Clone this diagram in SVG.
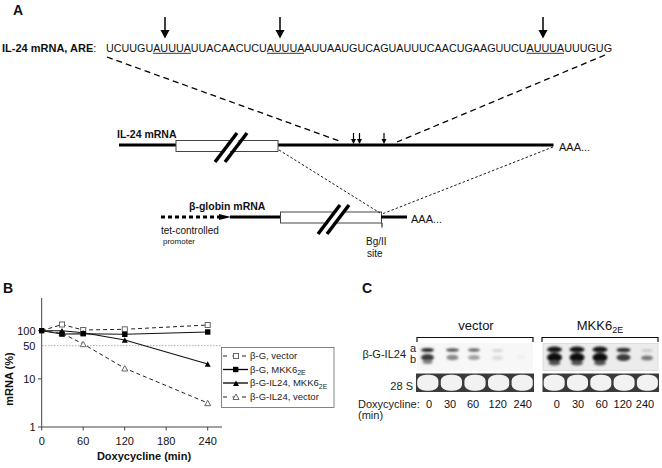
<svg xmlns="http://www.w3.org/2000/svg" width="662" height="468" viewBox="0 0 662 468">
<style>
text{font-family:"Liberation Sans",Arial,sans-serif;fill:#111}
.b{font-weight:bold}
.thick{stroke:#000;stroke-width:3;fill:none}
.dashA{stroke:#000;stroke-width:1.3;stroke-dasharray:6,4;fill:none}
.dot{stroke:#000;stroke-width:0.9;stroke-dasharray:2.5,2;fill:none}
.slash{stroke:#000;stroke-width:3.5;stroke-linecap:butt}
.box{fill:#fff;stroke:#444;stroke-width:1}
.ax{stroke:#444;stroke-width:1;fill:none}
.ser{fill:none;stroke:#111;stroke-width:1.1}
.serd{fill:none;stroke:#222;stroke-width:1;stroke-dasharray:4,3}
.om{fill:#fff;stroke:#666;stroke-width:1}
.fm{fill:#000}
.lg{font-size:9.5px;fill:#222}
.gl{font-size:11px;fill:#222}
</style>
<defs>
<filter id="bl" x="-50%" y="-50%" width="200%" height="200%"><feGaussianBlur stdDeviation="1"/></filter>
<filter id="bl2" x="-20%" y="-20%" width="140%" height="140%"><feGaussianBlur stdDeviation="0.7"/></filter>
</defs>

<!-- Panel A -->
<g id="panelA-label"><text class="b" x="13" y="15" font-size="14">A</text></g>
<g id="are-sequence">
<text x="2" y="51.5" font-size="11"><tspan class="b" font-weight="bold">IL-24 mRNA, ARE</tspan>:</text>
<text x="106" y="51.5" font-size="10.75" textLength="506" lengthAdjust="spacing">UCUUGUAUUUAUUACAACUCUAUUUAAUUAAUGUCAGUAUUUCAACUGAAGUUCUAUUUAUUUGUG</text>
<g stroke="#000" stroke-width="0.8">
<line x1="153" y1="53.3" x2="191" y2="53.3"/>
<line x1="267" y1="53.3" x2="304" y2="53.3"/>
<line x1="526.5" y1="53.3" x2="564" y2="53.3"/>
</g>
</g>
<g id="are-arrows">
<g stroke="#000" stroke-width="1.5">
<line x1="165" y1="17" x2="165" y2="31"/>
<line x1="280" y1="17" x2="280" y2="31"/>
<line x1="543" y1="17" x2="543" y2="31"/>
</g>
<polygon points="160.5,30 169.5,30 165,38.5"/>
<polygon points="275.5,30 284.5,30 280,38.5"/>
<polygon points="538.5,30 547.5,30 543,38.5"/>
</g>

<g id="il24-mrna">
<text class="b" x="117" y="138" font-size="10.5">IL-24 mRNA</text>
<line class="thick" x1="119" y1="145" x2="553.5" y2="145"/>
<rect class="box" x="176" y="140.5" width="102" height="11"/>
<line x1="219" y1="162" x2="241" y2="133" stroke="#fff" stroke-width="5"/>
<line class="slash" x1="215" y1="162" x2="237" y2="133"/>
<line class="slash" x1="225" y1="162" x2="247" y2="133"/>
<g stroke="#000" stroke-width="1.2">
<line x1="353.5" y1="133" x2="353.5" y2="140"/>
<line x1="359.5" y1="133" x2="359.5" y2="140"/>
<line x1="384" y1="133" x2="384" y2="140"/>
</g>
<polygon points="351,139 356,139 353.5,144"/>
<polygon points="357,139 362,139 359.5,144"/>
<polygon points="381.5,139 386.5,139 384,144"/>
<text x="559" y="151" font-size="11">AAA...</text>
</g>

<g id="bglobin-mrna">
<text class="b" x="189" y="210" font-size="10.5">β-globin mRNA</text>
<line x1="161" y1="217" x2="219" y2="217" stroke="#000" stroke-width="3" stroke-dasharray="4,3"/>
<polygon points="219,214 231,217 219,220"/>
<line class="thick" x1="230" y1="217" x2="281" y2="217"/>
<rect class="box" x="280.5" y="212" width="101" height="11"/>
<line class="thick" x1="381" y1="217" x2="407" y2="217"/>
<line x1="322" y1="234" x2="344" y2="205" stroke="#fff" stroke-width="5"/>
<line class="slash" x1="318" y1="234" x2="340" y2="205"/>
<line class="slash" x1="327" y1="234" x2="349" y2="205"/>
<line x1="382" y1="223" x2="382" y2="227.5" stroke="#000" stroke-width="1"/>
<text x="411" y="223" font-size="11">AAA...</text>
<text x="161" y="234" font-size="10">tet-controlled</text>
<text x="163" y="243.5" font-size="8">promoter</text>
<text x="366" y="245" font-size="10">Bg/II</text>
<text x="367" y="257" font-size="10">site</text>
</g>

<g id="connectors-A">
<line class="dashA" x1="107" y1="57" x2="342" y2="142"/>
<line class="dashA" x1="605" y1="55" x2="397" y2="142"/>
<line class="dot" x1="279" y1="150" x2="380" y2="213"/>
<line class="dot" x1="553" y1="147" x2="382" y2="214"/>
</g>

<!-- Panel B -->
<g id="panelB">
<text class="b" x="3" y="293" font-size="14">B</text>
<line x1="42" y1="345.7" x2="222" y2="345.7" stroke="#aaa" stroke-width="1" stroke-dasharray="1.5,1.5"/>
<path class="ax" d="M41.7,298 V427 H222"/>
<g class="ax">
<line x1="38" y1="330.7" x2="41.7" y2="330.7"/>
<line x1="38" y1="378.9" x2="41.7" y2="378.9"/>
<line x1="38" y1="427" x2="41.7" y2="427"/>
<line x1="41.7" y1="427" x2="41.7" y2="430.5"/>
<line x1="83.2" y1="427" x2="83.2" y2="430.5"/>
<line x1="124.7" y1="427" x2="124.7" y2="430.5"/>
<line x1="166.2" y1="427" x2="166.2" y2="430.5"/>
<line x1="207.7" y1="427" x2="207.7" y2="430.5"/>
</g>
<g font-size="11" text-anchor="end">
<text x="35.5" y="334.7">100</text>
<text x="35.5" y="349.7">50</text>
<text x="35.5" y="383">10</text>
<text x="35.5" y="430.7">1</text>
</g>
<g font-size="11" text-anchor="middle">
<text x="41.7" y="445">0</text>
<text x="83.2" y="445">60</text>
<text x="124.7" y="445">120</text>
<text x="166.2" y="445">180</text>
<text x="207.7" y="445">240</text>
</g>
<text class="b" x="144" y="460" font-size="11" text-anchor="middle">Doxycycline (min)</text>
<text class="b" x="13" y="379" font-size="11" text-anchor="middle" transform="rotate(-90 13 379)">mRNA (%)</text>
</g>
<g id="series">
<polyline class="serd" points="41.7,330.7 62,324.5 83.2,330 124.8,329.3 207.7,325"/>
<polyline class="ser" points="41.7,330.7 62,334 83.2,333.7 124.8,334.3 207.7,332"/>
<polyline class="ser" points="41.7,330.7 62,330.7 83.2,332.7 124.8,340 207.7,364"/>
<polyline class="serd" points="41.7,330.7 62,333.3 83.2,344 124.8,368.3 207.7,403"/>
<g class="om">
<rect x="59.5" y="322" width="5" height="5"/>
<rect x="80.7" y="327.5" width="5" height="5"/>
<rect x="122.3" y="326.8" width="5" height="5"/>
<rect x="205.2" y="322.5" width="5" height="5"/>
<polygon points="59,336 65,336 62,330.8"/>
<polygon points="80.2,346.7 86.2,346.7 83.2,341.3"/>
<polygon points="121.8,371 127.8,371 124.8,365.6"/>
<polygon points="204.7,405.7 210.7,405.7 207.7,400.3"/>
</g>
<g class="fm">
<polygon points="59,333.5 65,333.5 62,328"/>
<polygon points="80.2,335.5 86.2,335.5 83.2,330"/>
<polygon points="121.8,342.7 127.8,342.7 124.8,337.2"/>
<polygon points="204.7,366.7 210.7,366.7 207.7,361.2"/>
<rect x="39" y="328" width="5.4" height="5.4"/>
<rect x="59.3" y="331.3" width="5.4" height="5.4"/>
<rect x="80.5" y="331" width="5.4" height="5.4"/>
<rect x="122.1" y="331.6" width="5.4" height="5.4"/>
<rect x="205" y="329.3" width="5.4" height="5.4"/>
</g>
</g>
<g id="legend">
<rect x="221.5" y="347.5" width="112.5" height="60" fill="#fff" stroke="#666" stroke-width="0.8"/>
<line x1="223" y1="356" x2="248" y2="356" stroke="#222" stroke-width="1" stroke-dasharray="4,5.5"/>
<rect x="233.5" y="353.5" width="5" height="5" fill="#fff" stroke="#666"/>
<line x1="223" y1="369.5" x2="248" y2="369.5" stroke="#000" stroke-width="1.3"/>
<rect x="233" y="366.8" width="5.4" height="5.4"/>
<line x1="223" y1="383" x2="248" y2="383" stroke="#000" stroke-width="1.3"/>
<polygon points="233,386 239,386 236,380.5"/>
<line x1="223" y1="397" x2="248" y2="397" stroke="#222" stroke-width="1" stroke-dasharray="4,5.5"/>
<polygon points="233,399.5 239,399.5 236,394" fill="#fff" stroke="#666"/>
<text class="lg" x="250" y="359.3">β-G, vector</text>
<text class="lg" x="250" y="372.8">β-G, MKK6<tspan font-size="7" dy="2.5">2E</tspan></text>
<text class="lg" x="250" y="386.3">β-G-IL24, MKK6<tspan font-size="7" dy="2.5">2E</tspan></text>
<text class="lg" x="250" y="400.3">β-G-IL24, vector</text>
</g>

<!-- Panel C -->
<g id="panelC">
<text class="b" x="362" y="293" font-size="14">C</text>
<text x="476" y="330" font-size="13" text-anchor="middle">vector</text>
<text x="600" y="330" font-size="13" text-anchor="middle">MKK6<tspan font-size="9" dy="3">2E</tspan></text>
<path d="M417,342 V337.5 H533 V342" fill="none" stroke="#111" stroke-width="1.2"/>
<path d="M542,342 V337.5 H658 V342" fill="none" stroke="#111" stroke-width="1.2"/>
<text class="gl" x="406" y="358" text-anchor="end">β-G-IL24</text>
<text class="gl" x="410" y="352">a</text>
<text class="gl" x="410" y="362.5">b</text>
<text class="gl" x="413" y="390" text-anchor="end">28 S</text>
<text class="gl" x="358" y="407.5">Doxycycline:</text>
<text class="gl" x="358" y="419">(min)</text>
<g class="gl" text-anchor="middle" font-size="11">
<text x="429" y="407.5">0</text>
<text x="450" y="407.5">30</text>
<text x="473" y="407.5">60</text>
<text x="497.7" y="407.5">120</text>
<text x="522.7" y="407.5">240</text>
<text x="556.7" y="407.5">0</text>
<text x="578" y="407.5">30</text>
<text x="601.7" y="407.5">60</text>
<text x="622.7" y="407.5">120</text>
<text x="645" y="407.5">240</text>
</g>
</g>
<g id="blot-il24">
<rect x="417" y="343" width="116" height="28" fill="#f7f7f7"/>
<rect x="543" y="343.5" width="115" height="27" fill="#ececec" stroke="#d8d8d8" stroke-width="0.8"/>
<g filter="url(#bl)">
<ellipse cx="427.5" cy="350" rx="6.5" ry="2" fill="#2a2a2a"/>
<ellipse cx="427.5" cy="357.5" rx="6.5" ry="3.5" fill="#3a3a3a"/>
<ellipse cx="427.5" cy="362" rx="5" ry="2" fill="#888"/>
<ellipse cx="452.5" cy="350" rx="6.5" ry="1.8" fill="#555"/>
<ellipse cx="452.5" cy="357.5" rx="6" ry="2.8" fill="#888"/>
<ellipse cx="474" cy="350" rx="6" ry="1.7" fill="#6a6a6a"/>
<ellipse cx="474" cy="357.5" rx="6" ry="2.6" fill="#a0a0a0"/>
<ellipse cx="497.5" cy="350.5" rx="5.5" ry="1.6" fill="#d4d4d4"/>
<ellipse cx="497.5" cy="358" rx="5.5" ry="2.4" fill="#dedede"/>
<ellipse cx="521.5" cy="357" rx="5" ry="2" fill="#f0f0f0"/>
<ellipse cx="554.5" cy="349.5" rx="7.5" ry="3" fill="#151515"/>
<ellipse cx="554.5" cy="357.5" rx="7.5" ry="4.5" fill="#0a0a0a"/>
<ellipse cx="554.5" cy="363" rx="6" ry="2.5" fill="#555"/>
<ellipse cx="577" cy="349.5" rx="7.5" ry="3" fill="#151515"/>
<ellipse cx="577" cy="357.5" rx="7.5" ry="4.5" fill="#0a0a0a"/>
<ellipse cx="577" cy="363" rx="6" ry="2.5" fill="#555"/>
<ellipse cx="600" cy="349.5" rx="7.5" ry="3" fill="#151515"/>
<ellipse cx="600" cy="357.5" rx="7.5" ry="4.5" fill="#0a0a0a"/>
<ellipse cx="600" cy="363" rx="6" ry="2.5" fill="#555"/>
<ellipse cx="623.5" cy="350" rx="7" ry="2.3" fill="#333"/>
<ellipse cx="623.5" cy="357.5" rx="7" ry="3.5" fill="#3a3a3a"/>
<ellipse cx="647" cy="350.5" rx="5.5" ry="1.5" fill="#c8c8c8"/>
<ellipse cx="647" cy="358" rx="6" ry="2.5" fill="#777"/>
</g>
</g>
<g id="blot-28s">
<rect x="416" y="373.5" width="118" height="18.5" fill="#3a3a3a"/>
<rect x="542.5" y="373.5" width="116.5" height="18.5" fill="#3a3a3a"/>
<g fill="#f2f2f2" filter="url(#bl2)">
<rect x="417.2" y="374.8" width="21.2" height="16" rx="9" ry="6"/>
<rect x="440.8" y="374.8" width="21.2" height="16" rx="9" ry="6"/>
<rect x="464.4" y="374.8" width="21.2" height="16" rx="9" ry="6"/>
<rect x="488" y="374.8" width="21.2" height="16" rx="9" ry="6"/>
<rect x="511.6" y="374.8" width="21.2" height="16" rx="9" ry="6"/>
<rect x="543.7" y="374.8" width="21" height="16" rx="9" ry="6"/>
<rect x="567" y="374.8" width="21" height="16" rx="9" ry="6"/>
<rect x="590.3" y="374.8" width="21" height="16" rx="9" ry="6"/>
<rect x="613.6" y="374.8" width="21" height="16" rx="9" ry="6"/>
<rect x="636.9" y="374.8" width="21" height="16" rx="9" ry="6"/>
</g>
</g>
</svg>
